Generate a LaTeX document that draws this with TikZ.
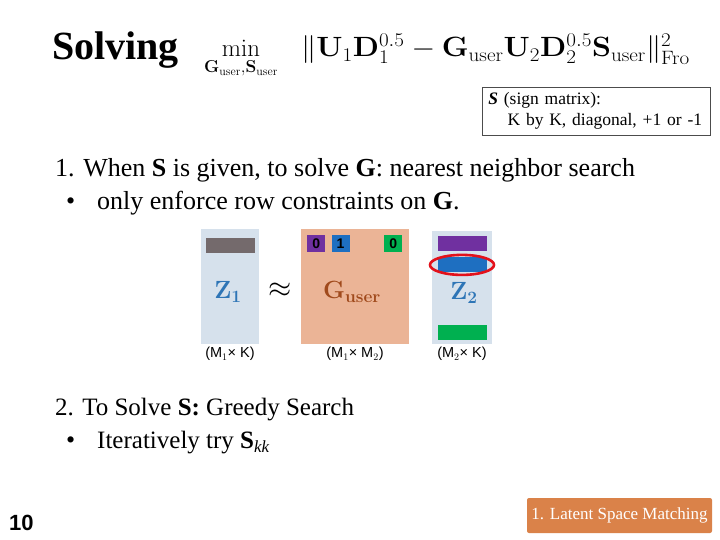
\documentclass[tikz,border=0pt]{standalone}
\usepackage{amsmath}
\usepackage{amssymb}
\usepackage{graphicx}
\usepackage[no-math]{fontspec}
\setmainfont{Liberation Serif}
\newfontfamily\arialfont{Liberation Sans}
\usetikzlibrary{positioning,shapes.geometric}
\definecolor{zback}{HTML}{D6E1EC}
\definecolor{gback}{HTML}{EBB496}
\definecolor{barGray}{HTML}{746A6C}
\definecolor{barPurple}{HTML}{7030A0}
\definecolor{barBlue}{HTML}{1E6FC1}
\definecolor{barGreen}{HTML}{00B050}
\definecolor{ringRed}{HTML}{E3111B}
\definecolor{zText}{HTML}{2E75B6}
\definecolor{gText}{HTML}{A04A1C}
\definecolor{tagOrange}{HTML}{DA8249}

\tikzset{x=1pt, y=-1pt,
  line/.style={anchor=base west, inner sep=0pt, font=\fontsize{26}{29}\selectfont},
  matbox/.style={inner sep=0pt, draw=none},
  bar/.style={inner sep=0pt, minimum width=49, minimum height=15},
  cell/.style={inner sep=0pt, minimum width=18, minimum height=17,
     font=\arialfont\bfseries\fontsize{14}{14}\selectfont},
  dimlabel/.style={inner sep=0pt, font=\arialfont\fontsize{14.5}{14.5}\selectfont}
}

\begin{document}
\begin{tikzpicture}
\useasboundingbox[fill=white] (0,0) rectangle (720,540);

% title and objective
\node[anchor=base west, inner sep=0pt, font=\bfseries\fontsize{40}{40}\selectfont]
   (solving) at (52,60) {Solving};
\node[anchor=base west, inner sep=0pt, font=\fontsize{24}{24}\selectfont]
   (argmin) at (204,57)
   {$\displaystyle\min_{\mathbf{G}_{\mathrm{user}},\mathbf{S}_{\mathrm{user}}}$};
\node[anchor=base west, inner sep=0pt, font=\fontsize{24}{24}\selectfont]
   (residual) at (301,57)
   {\scalebox{1.22}[1.12]{$\|\mathbf{U}_1\mathbf{D}_1^{0.5}-\mathbf{G}_{\mathrm{user}}\mathbf{U}_2
     \mathbf{D}_2^{0.5}\mathbf{S}_{\mathrm{user}}\|_{\mathrm{Fro}}^2$}};
\node[draw=black!70, line width=0.6pt, inner xsep=6pt, inner ysep=4pt, align=left,
   anchor=north west, text width=216pt, minimum height=48,
   font=\fontsize{17.5}{21}\selectfont]
   (signbox) at (482,87)
   {\textbf{\textit{S}} (sign matrix):\\ \hspace{1.1em}K by K, diagonal, +1 or -1};

% step 1
\node[line] (stepone) at (55,177)
   {1. When \textbf{S} is given, to solve \textbf{G}: nearest neighbor search};
\node[line] (dotone) at (66,210) {•};
\node[line] (rowonly) at (97,210) {only enforce row constraints on \textbf{G}.};

% the three matrices
\node[matbox, fill=zback, minimum width=58, minimum height=115] (zone) at (230,286.5) {};
\node[matbox, fill=gback, minimum width=108, minimum height=115] (guser) at (355,286.5) {};
\node[matbox, fill=zback, minimum width=60, minimum height=113] (ztwo) at (462,287.5) {};

\node[bar, fill=barGray, below=9pt of zone.north] (grayrow) {};
\node[font=\fontsize{24}{24}\selectfont, text=zText] (zonename) at (228,292)
   {$\mathbf{Z}_{\mathbf{1}}$};
\node[font=\fontsize{24}{24}\selectfont] (approx) at (280,290) {\scalebox{1.2}{$\approx$}};

\node[cell, fill=barPurple, anchor=north west] (cellA) at (307,235) {0};
\node[cell, fill=barBlue, right=6pt of cellA] (cellB) {1};
\node[cell, fill=barGreen, anchor=north west] (cellC) at (384,235) {0};
\node[font=\fontsize{23}{23}\selectfont, text=gText] (gname) at (352,292)
   {$\mathbf{G}_{\mathbf{user}}$};

\node[bar, fill=barPurple, below=5pt of ztwo.north] (purplerow) {};
\node[bar, fill=barBlue, below=6pt of purplerow] (bluerow) {};
\node[bar, fill=barGreen, above=4pt of ztwo.south] (greenrow) {};
\node[ellipse, draw=ringRed, line width=2.6pt, inner sep=0pt,
   minimum width=64, minimum height=20] (pick) at (bluerow.center) {};
\node[font=\fontsize{24}{24}\selectfont, text=zText] (ztwoname) at (464,293)
   {$\mathbf{Z}_{\mathbf{2}}$};

\node[dimlabel, below=3pt of zone] (zonedim) {(M$_1$× K)};
\node[dimlabel, below=3pt of guser] (guserdim) {(M$_1$× M$_2$)};
\node[dimlabel, below=3pt of ztwo] (ztwodim) {(M$_2$× K)};

% step 2
\node[line, font=\fontsize{25}{28}\selectfont] (steptwo) at (55,415)
   {2. To Solve \textbf{S:} Greedy Search};
\node[line] (dottwo) at (66,448) {•};
\node[line, font=\fontsize{25}{28}\selectfont] (iterate) at (97,448)
   {Iteratively try \textbf{S}\raisebox{-0.35ex}{\fontsize{17}{17}\selectfont\textit{kk}}};

% footer
\node[anchor=base west, inner sep=0pt, font=\arialfont\bfseries\fontsize{22}{22}\selectfont]
   (pagenum) at (9,530) {10};
\node[fill=tagOrange, rounded corners=2pt, text=white, inner sep=0pt,
   minimum width=185, minimum height=35, font=\fontsize{17}{17}\selectfont]
   (tag) at (619.5,515.5) {1. Latent Space Matching};
\end{tikzpicture}
\end{document}
